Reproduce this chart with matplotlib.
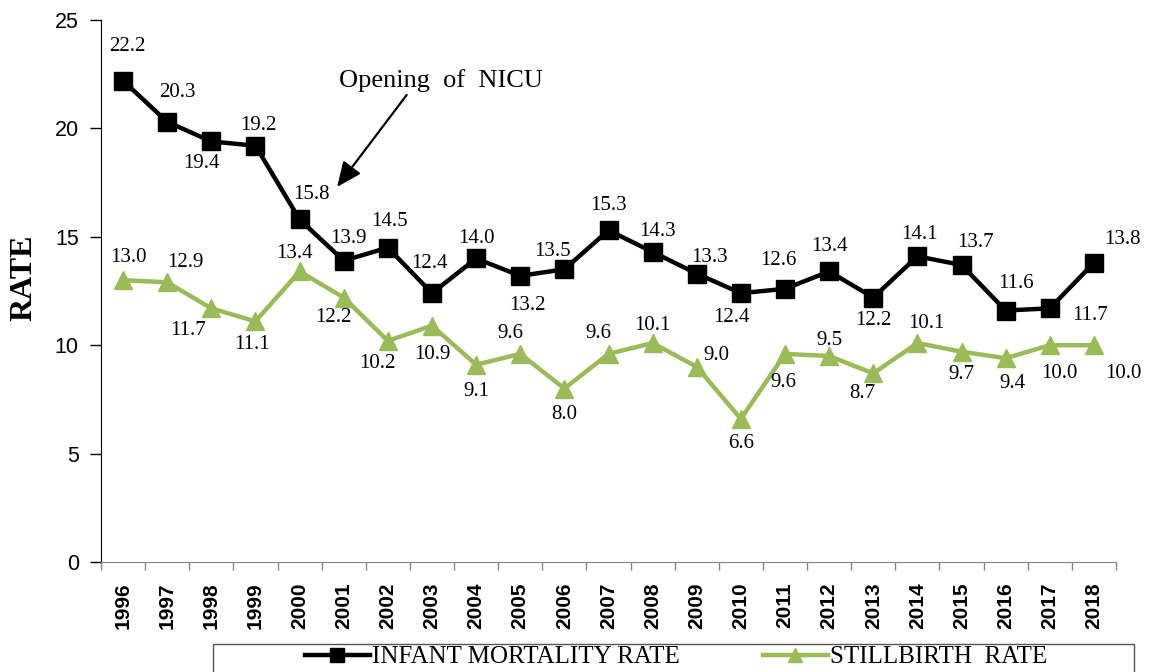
import matplotlib
matplotlib.use("Agg")
import matplotlib.pyplot as plt
from matplotlib.patches import Rectangle

# data
years = [str(y) for y in range(1996, 2019)]
infant_rate = [22.2, 20.3, 19.4, 19.2, 15.8, 13.9, 14.5, 12.4, 14.0, 13.2, 13.5, 15.3,
               14.3, 13.3, 12.4, 12.6, 13.4, 12.2, 14.1, 13.7, 11.6, 11.7, 13.8]
stillbirth_rate = [13.0, 12.9, 11.7, 11.1, 13.4, 12.2, 10.2, 10.9, 9.1, 9.6, 8.0, 9.6,
                   10.1, 9.0, 6.6, 9.6, 9.5, 8.7, 10.1, 9.7, 9.4, 10.0, 10.0]

# where each data label sits relative to its marker (pixels, y up)
infant_offsets = [(4, 34), (10, 29), (-10, -22), (3, 20), (12, 25), (5, 22), (2, 26),
                  (-3, 30), (0, 20), (7, -30), (-12, 18), (0, 25), (5, 20), (13, 16),
                  (-9, -24), (-7, 28), (0, 25), (0, -23), (2, 22), (14, 22), (10, 27),
                  (40, -7), (28, 23)]
still_offsets = [(5, 23), (18, 20), (-23, -22), (-3, -23), (-5, 18), (-10, -20),
                 (-10, -23), (0, -29), (0, -27), (-10, 20), (0, -26), (-10, 20), (0, 18),
                 (20, 11), (0, -25), (-2, -29), (0, 16), (-11, -20), (9, 20), (0, -23),
                 (7, -25), (10, -28), (29, -28)]

GREEN = "#9BBB59"
SERIF = "Liberation Serif"
SANS = "Liberation Sans"

fig = plt.figure(figsize=(11.53, 6.72), dpi=100)
ax = fig.add_axes([101 / 1153, 1 - 562 / 672, (1116 - 101) / 1153, (562 - 20) / 672])

x = list(range(len(years)))
ax.plot(x, infant_rate, color="black", lw=3.2, marker="s", ms=12.5,
        label="INFANT MORTALITY RATE", clip_on=False, zorder=3)
ax.plot(x, stillbirth_rate, color=GREEN, lw=3.2, marker="^", ms=13,
        label="STILLBIRTH  RATE", clip_on=False, zorder=3)

for xi, v, off in zip(x, infant_rate, infant_offsets):
    ax.annotate(f"{v:.1f}", (xi, v), xytext=off, textcoords="offset pixels",
                ha="center", va="center", fontsize=15, family=SERIF)
for xi, v, off in zip(x, stillbirth_rate, still_offsets):
    ax.annotate(f"{v:.1f}", (xi, v), xytext=off, textcoords="offset pixels",
                ha="center", va="center", fontsize=15, family=SERIF)

# arrow leaves from under the "ng" of Opening
ax.annotate("Opening  of  NICU", xy=(4.85, 17.3), xytext=(7.2, 22.2),
            ha="center", va="center", fontsize=19, family=SERIF,
            arrowprops=dict(arrowstyle="-|>,head_length=0.8,head_width=0.35",
                            color="black", lw=1.6, shrinkA=0, shrinkB=0,
                            relpos=(0.36, 0.2)))

ax.set_xlim(-0.5, len(years) - 0.5)
ax.set_ylim(0, 25)
ax.set_yticks([0, 5, 10, 15, 20, 25])
ax.set_xticks(x)
ax.set_xticklabels(years, rotation=90, fontsize=15, fontweight="bold", family=SANS)
ax.set_xticks([i - 0.5 for i in range(len(years) + 1)], minor=True)
ax.tick_params(axis="x", which="major", length=0, pad=15)
ax.tick_params(axis="x", which="minor", length=6, width=1, color="#868686", direction="out")
ax.tick_params(axis="y", length=8, width=1, direction="out", labelsize=15.5, pad=8)
for lbl in ax.get_yticklabels():
    lbl.set_family(SANS)

ax.spines["top"].set_visible(False)
ax.spines["right"].set_visible(False)
ax.spines["bottom"].set_color("#868686")
ax.spines["left"].set_color("black")
ax.set_ylabel("RATE", fontsize=23, fontweight="bold", family=SERIF)
ax.yaxis.set_label_coords(-63 / 1015, (562 - 278) / 542)

# legend box runs off the bottom of the picture
fig.patches.append(Rectangle((213 / 1153, -0.05), (1134 - 213) / 1153, 0.05 + 28 / 672,
                             transform=fig.transFigure, fill=False, ec="#555555", lw=1))
fig.legend(loc="center", bbox_to_anchor=(676 / 1153, 1 - 657 / 672), ncol=2, frameon=False,
           prop={"family": SERIF, "size": 18}, handlelength=2.6, columnspacing=3.3,
           handletextpad=0.1, borderpad=0, markerscale=0.8)

fig.savefig("out.png", dpi=100)
